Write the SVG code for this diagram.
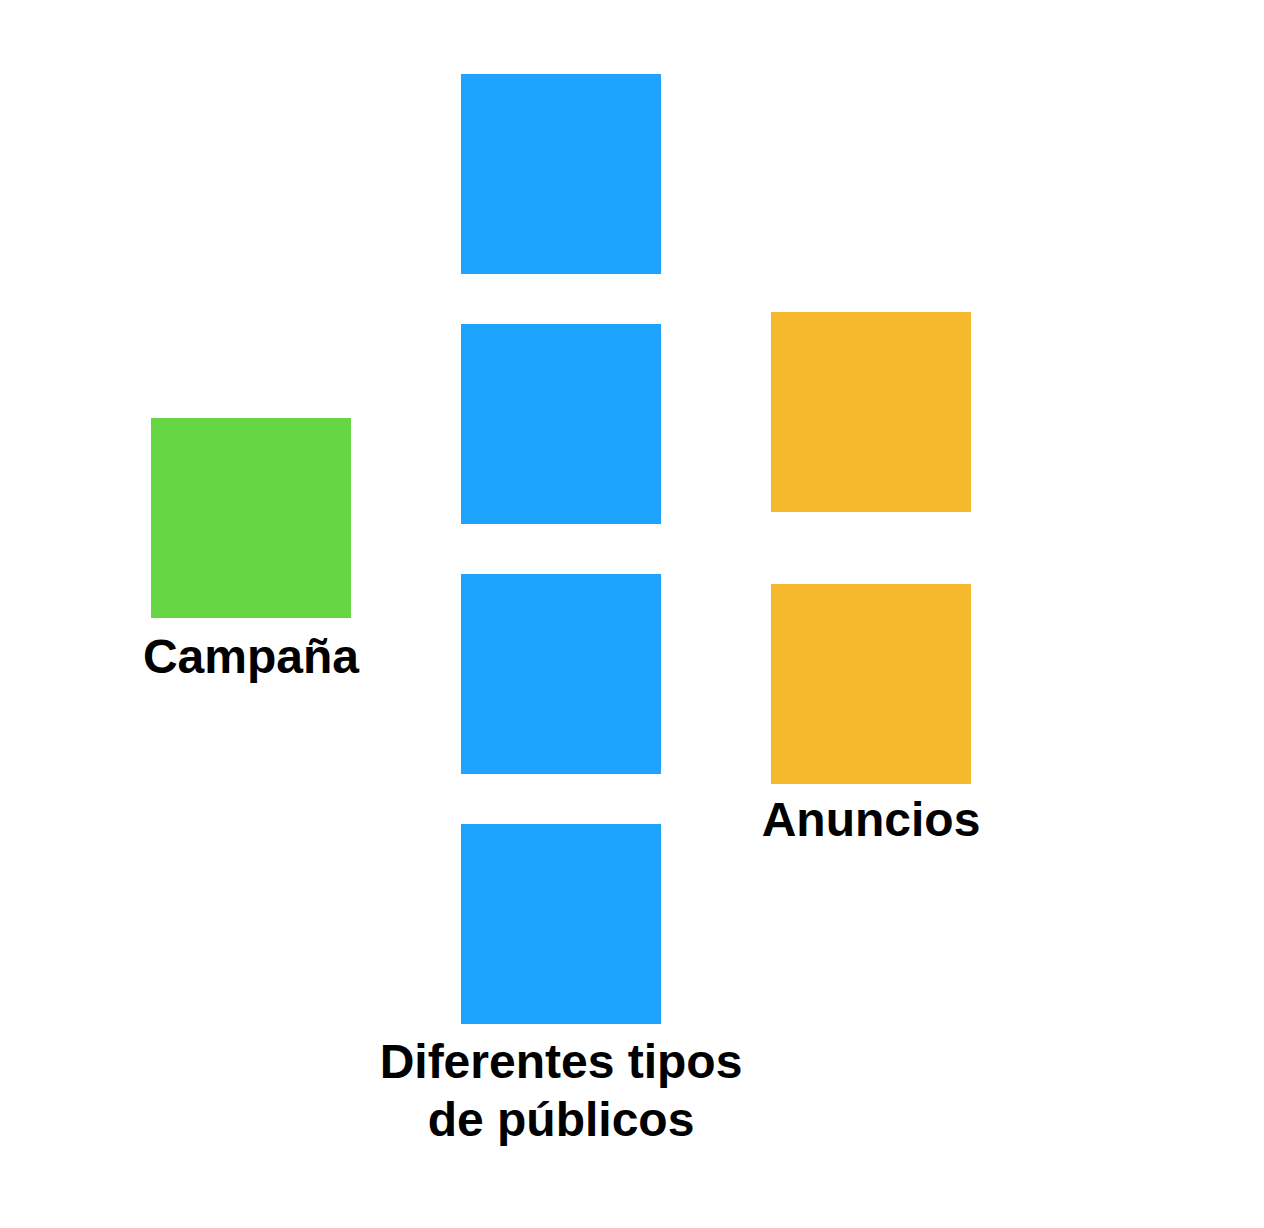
<svg xmlns="http://www.w3.org/2000/svg" width="1264" height="1228" viewBox="0 0 1264 1228">
<style>
.lbl{font-family:"Liberation Sans",Arial,sans-serif;font-weight:bold;font-size:48px;fill:#000;text-anchor:middle}
.g{fill:#66D645}.b{fill:#1EA4FF}.o{fill:#F6B82C}
</style>
<rect width="1264" height="1228" fill="#fff"/>
<g id="campana"><rect class="g" x="151" y="418" width="200" height="200"/><text class="lbl" x="251" y="673">Campaña</text></g>
<g id="publico1"><rect class="b" x="461" y="74" width="200" height="200"/></g>
<g id="publico2"><rect class="b" x="461" y="324" width="200" height="200"/></g>
<g id="publico3"><rect class="b" x="461" y="574" width="200" height="200"/></g>
<g id="publico4"><rect class="b" x="461" y="824" width="200" height="200"/><text class="lbl" x="561" y="1078">Diferentes tipos</text><text class="lbl" x="561" y="1136">de públicos</text></g>
<g id="anuncio1"><rect class="o" x="771" y="312" width="200" height="200"/></g>
<g id="anuncio2"><rect class="o" x="771" y="584" width="200" height="200"/><text class="lbl" x="871" y="836">Anuncios</text></g>
<g id="connectors"></g>
</svg>
